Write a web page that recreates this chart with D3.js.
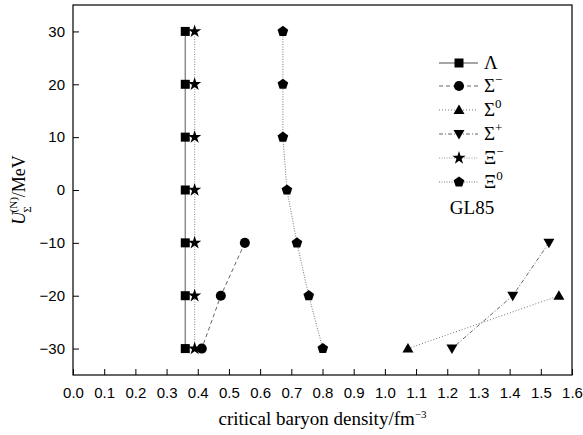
<!DOCTYPE html>
<html><head><meta charset="utf-8">
<script src="https://cdn.jsdelivr.net/npm/d3@7"></script>
<style>body{margin:0;background:#fff}svg{display:block}</style>
</head><body>
<svg id="c" width="583" height="435"></svg>
<script>
const yLevels = [30, 20, 10, 0, -10, -20, -30];
const lambdaX = [0.36, 0.36, 0.36, 0.36, 0.36, 0.36, 0.36];
const xiMinusX = [0.39, 0.39, 0.39, 0.39, 0.39, 0.39, 0.39];
const xi0X = [0.673, 0.673, 0.673, 0.686, 0.718, 0.756, 0.801];
const sigmaMinusY = [-10, -20, -30];
const sigmaMinusX = [0.551, 0.474, 0.413];
const sigma0Y = [-20, -30];
const sigma0X = [1.558, 1.074];
const sigmaPlusY = [-10, -20, -30];
const sigmaPlusX = [1.526, 1.41, 1.215];
const xTicks = [0.0,0.1,0.2,0.3,0.4,0.5,0.6,0.7,0.8,0.9,1.0,1.1,1.2,1.3,1.4,1.5,1.6];
const yTicks = [-30,-20,-10,0,10,20,30];

const L = 73, R = 572, T = 5, B = 375;
const svg = d3.select('#c');
const x = d3.scaleLinear().domain([0, 1.6]).range([L, R]);
const y = d3.scaleLinear().domain([-35, 35]).range([B, T]);

const pent = (r) => {
  const pts = d3.range(5).map(i => {
    const a = -Math.PI/2 + i*2*Math.PI/5;
    return [r*Math.cos(a), r*Math.sin(a)];
  });
  return 'M' + pts.map(p => p.join(',')).join('L') + 'Z';
};
const shapes = {
  square: () => 'M-4.5,-4.5H4.5V4.5H-4.5Z',
  circle: () => d3.symbol(d3.symbolCircle, 80)(),
  up: () => 'M0,-5.5L5.5,4L-5.5,4Z',
  down: () => 'M0,5.5L5.5,-4L-5.5,-4Z',
  star: () => d3.symbol(d3.symbolStar, 55)(),
  pent: () => pent(5.6)
};

const series = [
  {name: 'Λ', sup: '', xs: lambdaX, ys: yLevels, shape: 'square', dash: null, color: '#888', w: 1.4},
  {name: 'Σ', sup: '−', xs: sigmaMinusX, ys: sigmaMinusY, shape: 'circle', dash: '4,3', color: '#555', w: 0.9},
  {name: 'Σ', sup: '0', xs: sigma0X, ys: sigma0Y, shape: 'up', dash: '1,2', color: '#666', w: 0.9},
  {name: 'Σ', sup: '+', xs: sigmaPlusX, ys: sigmaPlusY, shape: 'down', dash: '4,2,1,2', color: '#555', w: 0.9},
  {name: 'Ξ', sup: '−', xs: xiMinusX, ys: yLevels, shape: 'star', dash: '1,1.5', color: '#999', w: 1.2},
  {name: 'Ξ', sup: '0', xs: xi0X, ys: yLevels, shape: 'pent', dash: '1,1.5', color: '#777', w: 1.0}
];

// frame
svg.append('rect').attr('x', L).attr('y', T).attr('width', R-L).attr('height', B-T)
  .attr('fill', 'none').attr('stroke', '#000').attr('stroke-width', 1.2);

// x axis
const xMinor = d3.range(0, 1.6001, 0.05);
const gx = svg.append('g').attr('transform', `translate(0,${B})`);
gx.call(d3.axisBottom(x).tickValues(xMinor).tickSize(-3).tickFormat(''))
  .call(g => g.select('.domain').remove());
gx.call(d3.axisBottom(x).tickValues(xTicks).tickSize(-6).tickPadding(12).tickFormat(d3.format('.1f')))
  .call(g => g.select('.domain').remove())
  .call(g => g.selectAll('text').attr('font-family', 'Liberation Sans, Arial, sans-serif').attr('font-size', 15).attr('fill', '#000'));
gx.selectAll('line').attr('stroke', '#000');

// y axis
const yMinor = d3.range(-35, 35.001, 5);
const gy = svg.append('g').attr('transform', `translate(${L},0)`);
gy.call(d3.axisLeft(y).tickValues(yMinor).tickSize(-3).tickFormat(''))
  .call(g => g.select('.domain').remove());
gy.call(d3.axisLeft(y).tickValues(yTicks).tickSize(-6).tickPadding(8).tickFormat(d => d < 0 ? '−' + Math.abs(d) : d))
  .call(g => g.select('.domain').remove())
  .call(g => g.selectAll('text').attr('font-family', 'Liberation Sans, Arial, sans-serif').attr('font-size', 15).attr('fill', '#000'));
gy.selectAll('line').attr('stroke', '#000');

// series
const line = d3.line().x(d => x(d[0])).y(d => y(d[1]));
series.forEach(s => {
  const pts = s.xs.map((v, i) => [v, s.ys[i]]);
  svg.append('path').attr('d', line(pts)).attr('fill', 'none')
    .attr('stroke', s.color).attr('stroke-width', s.w)
    .attr('stroke-dasharray', s.dash);
  svg.append('g').selectAll('path').data(pts).join('path')
    .attr('d', shapes[s.shape]())
    .attr('transform', d => `translate(${x(d[0])},${y(d[1])})`)
    .attr('fill', '#000');
});

// legend
const lg = svg.append('g');
const rowY = [63, 86, 110, 134, 158, 182];
series.forEach((s, i) => {
  const yy = rowY[i];
  lg.append('line').attr('x1', 439).attr('x2', 478).attr('y1', yy).attr('y2', yy)
    .attr('stroke', s.color).attr('stroke-width', s.w).attr('stroke-dasharray', s.dash);
  lg.append('path').attr('d', shapes[s.shape]()).attr('transform', `translate(459,${yy})`).attr('fill', '#000');
  const t = lg.append('text').attr('x', 484).attr('y', yy + 6)
    .attr('font-family', 'Liberation Serif, Times New Roman, serif').attr('font-size', 19);
  t.append('tspan').text(s.name);
  if (s.sup) t.append('tspan').attr('dy', -8).attr('font-size', 13).text(s.sup);
});
lg.append('text').attr('x', 472).attr('y', 214).attr('text-anchor', 'middle')
  .attr('font-family', 'Liberation Serif, Times New Roman, serif').attr('font-size', 19).text('GL85');

// x title
const xt = svg.append('text').attr('x', (L+R)/2).attr('y', 425).attr('text-anchor', 'middle')
  .attr('font-family', 'Liberation Serif, Times New Roman, serif').attr('font-size', 19);
xt.append('tspan').text('critical baryon density/fm');
xt.append('tspan').attr('dy', -7).attr('font-size', 11).text('−3');

// y title
const yt = svg.append('text').attr('transform', `translate(25,190) rotate(-90)`).attr('text-anchor', 'middle')
  .attr('font-family', 'Liberation Serif, Times New Roman, serif').attr('font-size', 18);
yt.append('tspan').attr('font-style', 'italic').text('U');
yt.append('tspan').attr('font-size', 11).attr('dy', 6).attr('dx', -1).text('Σ');
yt.append('tspan').attr('font-size', 11).attr('dy', -14).attr('dx', -6).text('(N)');
yt.append('tspan').attr('dy', 8).text('/MeV');
</script>
</body></html>
